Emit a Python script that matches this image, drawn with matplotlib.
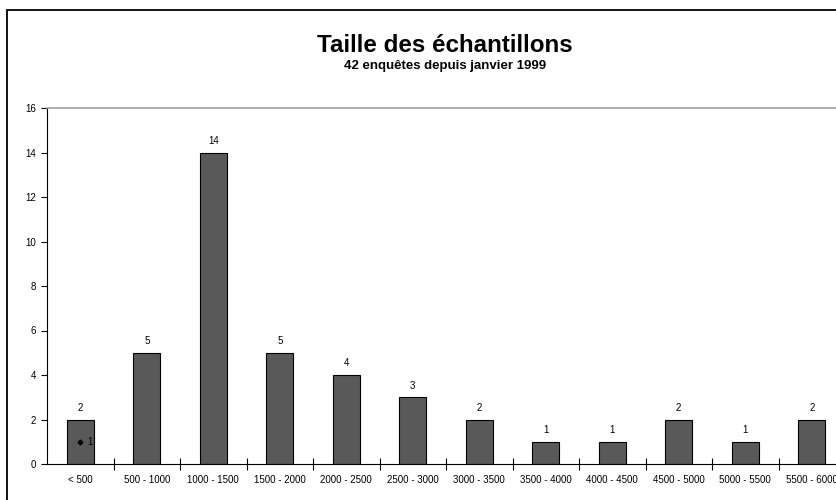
import matplotlib
matplotlib.use("Agg")
import numpy as np
from matplotlib import pyplot as plt
from matplotlib.patches import Rectangle

plt.rcParams['font.family'] = ['Liberation Sans', 'DejaVu Sans']

# Data
categories = ['< 500', '500 - 1000', '1000 - 1500', '1500 - 2000', '2000 - 2500',
              '2500 - 3000', '3000 - 3500', '3500 - 4000', '4000 - 4500',
              '4500 - 5000', '5000 - 5500', '5500 - 6000']
counts = [2, 5, 14, 5, 4, 3, 2, 1, 1, 2, 1, 2]
# second series: only one point on the first category
extra_idx = [0]
extra_vals = [1]

fig = plt.figure(figsize=(8.36, 5), dpi=100)

# outer chart frame (cut off on the right and bottom like the original)
fig.patches.append(Rectangle((7/836, -0.05), 1.2, 1 - 10/500 + 0.05,
                             transform=fig.transFigure, fill=False,
                             edgecolor='black', linewidth=1.3))

ax = fig.add_axes([47/836, 36/500, 798/836, 356/500])
x = np.arange(len(categories))
bars = ax.bar(x, counts, width=0.4, color='#595959', edgecolor='black', linewidth=0.8)

for xi, v in zip(x, counts):
    ax.text(xi, v + 0.3, str(v), ha='center', va='bottom', fontsize=7)

ax.plot(extra_idx, extra_vals, linestyle='none', marker='D', markersize=2.5, color='black')
for xi, v in zip(extra_idx, extra_vals):
    ax.text(xi + 0.1, v, str(v), ha='left', va='center', fontsize=7)

ax.set_xlim(-0.5, len(categories) - 0.5)
ax.set_ylim(0, 16)
ax.set_yticks(range(0, 17, 2))
ax.set_xticks(x)
ax.set_xticklabels(categories)
ax.set_xticks(np.arange(0.5, len(categories) - 0.5, 1), minor=True)

ax.tick_params(axis='y', direction='out', length=4, width=0.8, labelsize=7, pad=4)
ax.tick_params(axis='x', which='major', length=0, labelsize=7, pad=8)
ax.tick_params(axis='x', which='minor', direction='inout', length=8, width=0.8)

ax.spines['right'].set_visible(False)
ax.spines['top'].set_color('#a0a0a0')
ax.spines['top'].set_linewidth(1.2)
ax.spines['left'].set_linewidth(0.8)
ax.spines['bottom'].set_linewidth(0.8)

fig.text(445/836, 1 - 45/500, 'Taille des échantillons', ha='center', va='center',
         fontsize=17.4, fontweight='bold')
fig.text(445/836, 1 - 66/500, '42 enquêtes depuis janvier 1999', ha='center', va='center',
         fontsize=9.5, fontweight='bold')

fig.savefig('out.png', dpi=100)
